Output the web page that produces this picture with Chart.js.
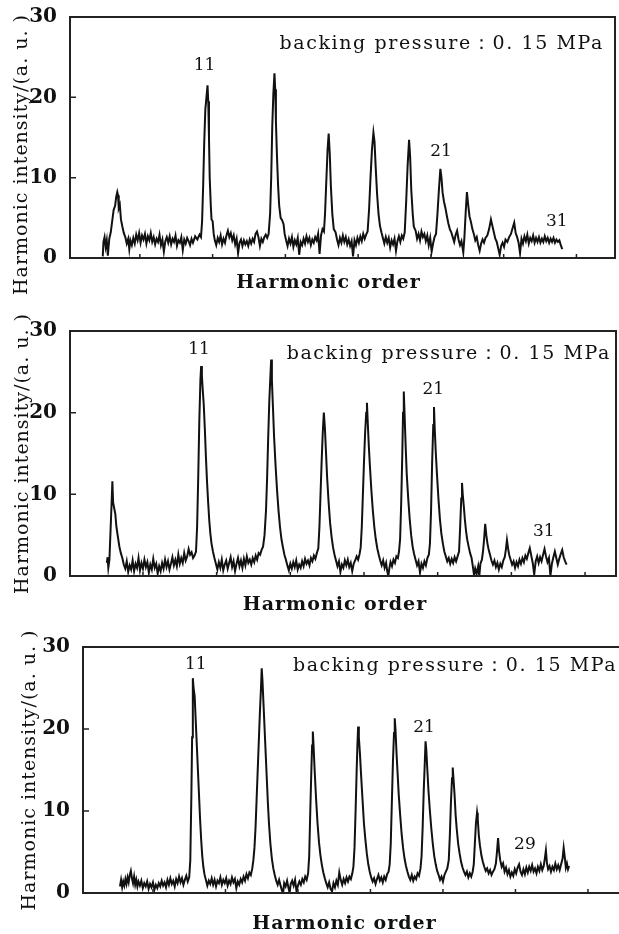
<!DOCTYPE html>
<html>
<head>
<meta charset="utf-8">
<script src="https://cdn.jsdelivr.net/npm/chart.js@4.4.1/dist/chart.umd.min.js"></script>
<style>
  html, body { margin: 0; padding: 0; background: #fff; width: 619px; height: 934px; overflow: hidden; }
  canvas { position: absolute; left: 0; }
</style>
</head>
<body>
<canvas id="panel1" width="619" height="305" style="top:0px"></canvas>
<canvas id="panel2" width="619" height="320" style="top:305px"></canvas>
<canvas id="panel3" width="640" height="309" style="top:625px"></canvas>
<script>
// spectra: [detector position (arb.), intensity (a. u.)]
const spectrum1 = [
  [4.9,0.2],[5.0,2.0],[5.15,2.6],[5.3,1.4],[5.45,2.2],[5.6,0.3],[5.8,2.4],[6.0,3.2],[6.2,4.6],[6.4,6.0],
  [6.6,6.5],[6.75,7.6],[6.9,8.2],[7.0,7.8],[7.1,6.2],[7.25,6.6],[7.4,4.8],[7.6,3.9],[7.8,3.1],[8.0,2.6],
  [8.2,1.8],[8.4,2.4],[8.55,1.1],[8.7,2.2],[8.9,1.6],[9.1,2.5],[9.3,1.8],[9.5,2.9],[9.7,2.2],[9.9,3.1],
  [10.1,1.9],[10.3,2.8],[10.5,2.3],[10.7,3.0],[10.9,1.8],[11.1,2.7],[11.3,2.2],[11.5,3.1],[11.7,2.0],[11.9,2.6],
  [12.1,1.7],[12.3,2.4],[12.5,2.0],[12.7,2.9],[12.9,1.6],[13.1,2.3],[13.3,0.8],[13.5,2.1],[13.7,2.6],[13.9,1.9],
  [14.1,2.7],[14.3,1.7],[14.5,2.4],[14.7,2.0],[14.9,2.8],[15.1,1.5],[15.3,2.2],[15.5,1.9],[15.7,2.6],[15.9,1.0],
  [16.1,2.3],[16.3,1.8],[16.5,2.5],[16.7,2.1],[16.9,1.6],[17.1,2.4],[17.3,1.9],[17.6,2.7],[17.9,2.3],[18.2,2.9],
  [18.4,2.6],[18.55,4.5],[18.7,9.0],[18.85,14.5],[19.0,18.5],[19.15,20.0],[19.3,21.5],[19.4,19.5],[19.5,15.0],[19.6,10.0],
  [19.75,6.5],[19.85,4.8],[20.0,4.6],[20.15,3.0],[20.3,2.2],[20.5,1.6],[20.7,2.5],[20.9,2.0],[21.1,2.8],[21.3,1.7],
  [21.5,2.4],[21.7,1.9],[21.9,2.8],[22.1,3.4],[22.3,2.6],[22.5,3.1],[22.7,2.2],[22.9,2.8],[23.1,1.7],[23.3,2.4],
  [23.5,0.6],[23.7,1.9],[23.9,2.3],[24.1,1.5],[24.3,2.2],[24.5,1.7],[24.7,2.1],[24.9,1.5],[25.1,2.3],[25.3,1.8],
  [25.5,2.4],[25.7,2.0],[25.9,3.0],[26.1,3.3],[26.3,2.6],[26.5,1.5],[26.7,2.4],[26.9,2.0],[27.1,2.6],[27.3,2.9],
  [27.5,2.5],[27.7,3.0],[27.9,5.5],[28.05,10.0],[28.2,16.5],[28.35,20.5],[28.5,23.0],[28.6,21.0],[28.7,17.0],[28.85,12.5],
  [29.0,9.0],[29.15,6.5],[29.35,5.0],[29.55,4.7],[29.75,4.2],[29.9,3.0],[30.1,2.2],[30.3,1.5],[30.5,2.4],[30.7,1.8],
  [30.9,2.6],[31.1,1.4],[31.3,2.2],[31.5,1.7],[31.7,2.5],[31.9,0.4],[32.1,2.0],[32.3,1.6],[32.5,2.4],[32.7,1.8],
  [32.9,2.7],[33.1,2.0],[33.3,2.5],[33.5,1.6],[33.7,2.3],[33.9,1.9],[34.1,2.6],[34.3,2.2],[34.5,3.0],[34.7,0.5],
  [34.9,2.8],[35.1,3.6],[35.3,3.3],[35.45,5.5],[35.6,9.0],[35.8,13.5],[35.95,15.5],[36.1,13.0],[36.25,9.0],[36.45,5.5],
  [36.65,3.6],[36.9,3.2],[37.1,2.3],[37.3,1.6],[37.5,2.5],[37.7,1.9],[37.9,2.8],[38.1,2.0],[38.3,2.6],[38.5,1.7],
  [38.7,2.3],[38.9,1.5],[39.1,2.1],[39.3,0.2],[39.5,2.2],[39.7,1.6],[39.9,2.5],[40.1,1.9],[40.3,2.7],[40.5,2.1],
  [40.7,3.0],[40.9,2.4],[41.1,2.9],[41.3,3.3],[41.5,6.0],[41.7,10.0],[41.9,13.5],[42.1,15.6],[42.25,14.5],[42.4,11.5],
  [42.6,8.0],[42.8,5.5],[43.0,4.0],[43.2,3.2],[43.4,2.5],[43.6,1.8],[43.8,2.6],[44.0,1.9],[44.2,2.5],[44.4,1.3],
  [44.6,2.2],[44.8,1.7],[45.0,2.4],[45.2,0.9],[45.4,2.1],[45.6,2.7],[45.8,2.0],[46.0,2.8],[46.2,2.4],[46.4,3.2],
  [46.6,7.0],[46.8,11.5],[47.0,14.7],[47.15,12.5],[47.3,8.5],[47.5,5.5],[47.65,3.9],[47.9,3.4],[48.1,2.4],[48.3,3.0],
  [48.5,2.2],[48.7,3.3],[48.9,2.6],[49.1,3.0],[49.3,2.1],[49.5,2.8],[49.7,1.6],[49.9,2.5],[50.1,0.8],[50.3,1.8],
  [50.5,2.6],[50.7,3.0],[50.9,5.5],[51.1,8.5],[51.3,11.1],[51.45,10.0],[51.6,8.2],[51.8,7.0],[52.0,6.2],[52.2,5.2],
  [52.4,4.3],[52.6,3.6],[52.8,3.2],[53.0,2.6],[53.2,2.0],[53.4,2.9],[53.6,3.4],[53.8,2.3],[54.0,1.6],[54.2,2.1],
  [54.45,0.7],[54.6,2.5],[54.8,6.0],[54.95,8.2],[55.1,6.8],[55.3,5.2],[55.5,4.5],[55.7,3.6],[55.9,3.0],[56.1,2.2],
  [56.3,2.6],[56.5,1.6],[56.7,0.9],[56.9,1.8],[57.1,2.3],[57.3,1.9],[57.5,2.5],[57.75,2.8],[58.0,3.6],[58.25,4.8],
  [58.45,4.0],[58.65,3.2],[58.85,2.4],[59.05,2.0],[59.25,1.2],[59.45,0.4],[59.65,1.5],[59.85,1.9],[60.05,1.4],[60.25,2.3],
  [60.5,2.0],[60.75,2.6],[61.0,3.0],[61.25,3.8],[61.45,4.4],[61.65,3.1],[61.85,2.6],[62.05,1.9],[62.25,0.6],[62.45,2.4],
  [62.65,1.8],[62.85,2.7],[63.05,2.1],[63.25,2.9],[63.45,1.8],[63.65,2.5],[63.85,2.1],[64.05,2.8],[64.25,1.9],[64.45,2.5],
  [64.65,2.0],[64.85,2.6],[65.05,1.9],[65.25,2.4],[65.45,2.0],[65.65,2.7],[65.85,2.1],[66.05,2.5],[66.25,1.9],[66.45,2.4],
  [66.65,2.0],[66.85,2.5],[67.05,1.9],[67.25,2.3],[67.45,2.0],[67.65,2.2],[67.85,1.6],[68.05,1.1]
];

const spectrum2 = [
  [5.1,1.6],[5.2,2.3],[5.3,1.0],[5.45,2.0],[5.6,5.5],[5.75,9.0],[5.85,11.6],[5.95,9.0],[6.1,8.3],[6.25,7.6],
  [6.4,6.0],[6.6,4.8],[6.8,3.6],[7.0,2.8],[7.2,2.2],[7.4,1.4],[7.6,0.9],[7.8,1.8],[8.0,0.5],[8.2,1.3],
  [8.4,0.8],[8.6,1.9],[8.8,0.6],[9.0,1.5],[9.2,1.0],[9.4,2.2],[9.6,0.7],[9.8,1.6],[10.0,0.9],[10.2,2.0],
  [10.4,1.1],[10.6,1.7],[10.8,0.4],[11.0,1.4],[11.2,0.8],[11.4,2.1],[11.6,1.0],[11.8,1.5],[12.0,0.3],[12.2,1.2],
  [12.4,0.6],[12.6,1.6],[12.8,0.9],[13.0,2.0],[13.2,1.1],[13.4,1.8],[13.6,0.8],[13.8,1.5],[14.0,2.3],[14.2,1.3],
  [14.4,2.0],[14.6,1.2],[14.8,2.6],[15.0,1.5],[15.2,2.2],[15.4,1.6],[15.6,2.8],[15.8,1.9],[16.0,2.4],[16.2,3.3],
  [16.4,2.6],[16.6,2.9],[16.8,2.2],[17.0,2.5],[17.2,3.0],[17.35,6.0],[17.5,12.0],[17.65,19.0],[17.8,24.0],[17.9,25.7],
  [18.0,24.5],[18.1,23.0],[18.25,21.0],[18.4,18.0],[18.55,14.5],[18.7,11.5],[18.85,9.0],[19.0,6.8],[19.15,5.2],[19.3,4.0],
  [19.5,3.0],[19.7,2.2],[19.9,1.5],[20.1,0.8],[20.3,1.7],[20.5,1.0],[20.7,2.0],[20.9,0.7],[21.1,1.4],[21.3,1.9],
  [21.5,0.9],[21.7,1.6],[21.9,2.3],[22.1,1.1],[22.3,1.8],[22.5,0.6],[22.7,1.5],[22.9,2.2],[23.1,1.2],[23.3,1.9],
  [23.5,1.0],[23.7,2.1],[23.9,1.3],[24.1,2.4],[24.3,1.6],[24.5,2.0],[24.7,1.4],[24.9,2.2],[25.1,1.7],[25.3,2.5],
  [25.5,2.0],[25.7,2.8],[25.9,2.6],[26.1,3.2],[26.3,3.6],[26.5,5.0],[26.7,8.0],[26.85,12.0],[27.0,17.0],[27.15,21.5],
  [27.3,24.5],[27.4,26.5],[27.5,24.0],[27.65,20.5],[27.8,17.0],[28.0,13.5],[28.2,10.5],[28.4,8.0],[28.6,6.0],[28.8,4.5],
  [29.0,3.5],[29.2,2.6],[29.4,2.0],[29.6,1.3],[29.8,0.7],[30.0,1.5],[30.2,0.9],[30.4,1.7],[30.6,1.1],[30.8,1.9],
  [31.0,0.8],[31.2,1.4],[31.4,1.0],[31.6,1.8],[31.8,1.2],[32.0,2.1],[32.2,1.5],[32.4,1.9],[32.6,1.3],[32.8,2.2],
  [33.0,1.8],[33.2,2.5],[33.4,2.1],[33.6,2.8],[33.8,3.4],[33.95,6.0],[34.1,10.0],[34.25,14.0],[34.4,17.5],[34.55,20.0],
  [34.7,18.0],[34.85,15.0],[35.0,12.0],[35.2,9.0],[35.4,6.5],[35.6,4.8],[35.8,3.5],[36.0,2.6],[36.2,1.9],[36.4,1.2],
  [36.6,1.8],[36.8,0.5],[37.0,1.4],[37.2,1.0],[37.4,1.9],[37.6,1.3],[37.8,2.0],[38.0,1.1],[38.2,1.6],[38.4,0.6],
  [38.6,1.5],[38.8,1.9],[39.0,2.4],[39.2,2.0],[39.4,2.7],[39.55,3.5],[39.7,6.0],[39.85,10.0],[40.0,14.0],[40.15,17.5],
  [40.3,20.0],[40.4,21.2],[40.5,19.0],[40.65,16.0],[40.8,13.5],[41.0,10.5],[41.2,8.0],[41.4,6.0],[41.6,4.5],[41.8,3.4],
  [42.0,2.6],[42.2,1.9],[42.4,1.3],[42.6,1.9],[42.8,1.0],[43.0,1.6],[43.15,0.6],[43.3,0.0],[43.45,1.0],[43.6,1.7],
  [43.8,1.2],[44.0,2.0],[44.2,1.6],[44.4,2.4],[44.6,2.2],[44.75,3.0],[44.9,4.5],[45.05,9.0],[45.2,15.0],[45.3,20.0],
  [45.4,22.6],[45.5,20.0],[45.65,16.0],[45.8,12.5],[46.0,9.5],[46.2,7.0],[46.4,5.0],[46.6,3.6],[46.8,2.7],[47.0,2.0],
  [47.2,1.3],[47.4,1.8],[47.6,0.4],[47.8,1.5],[48.0,1.0],[48.2,1.8],[48.4,1.3],[48.6,2.2],[48.8,2.6],[48.95,4.0],
  [49.1,8.0],[49.25,14.0],[49.4,18.5],[49.5,20.7],[49.6,18.0],[49.75,15.0],[49.9,12.5],[50.1,9.5],[50.3,7.0],[50.5,5.2],
  [50.7,4.0],[50.9,3.0],[51.1,2.4],[51.3,1.8],[51.5,2.2],[51.7,1.5],[51.9,2.1],[52.1,1.6],[52.3,2.3],[52.5,1.8],
  [52.7,2.4],[52.9,3.0],[53.05,6.0],[53.2,9.5],[53.3,11.4],[53.4,10.0],[53.55,8.5],[53.7,6.8],[53.85,5.5],[54.0,4.5],
  [54.2,3.6],[54.4,2.8],[54.6,2.2],[54.8,1.0],[54.95,0.0],[55.1,0.9],[55.3,0.3],[55.5,1.2],[55.65,0.0],[55.8,1.5],
  [56.0,2.0],[56.15,3.0],[56.3,4.5],[56.45,6.4],[56.6,5.0],[56.75,4.0],[56.9,3.3],[57.1,2.6],[57.3,1.9],[57.5,1.4],
  [57.7,1.9],[57.9,1.1],[58.1,1.6],[58.3,0.8],[58.5,1.5],[58.7,1.1],[58.9,1.9],[59.1,2.3],[59.25,3.2],[59.4,4.4],
  [59.55,3.4],[59.7,2.6],[59.9,2.0],[60.1,1.4],[60.3,1.8],[60.5,1.0],[60.7,1.7],[60.9,1.2],[61.1,2.0],[61.3,1.5],
  [61.5,2.2],[61.7,1.7],[61.9,2.5],[62.1,2.1],[62.3,2.8],[62.5,3.4],[62.7,2.5],[62.9,1.6],[63.1,0.2],[63.3,1.8],
  [63.5,2.4],[63.7,1.6],[63.9,2.3],[64.1,1.8],[64.3,2.6],[64.5,3.3],[64.7,2.4],[64.9,1.7],[65.1,2.2],[65.3,0.0],
  [65.5,1.5],[65.7,2.3],[65.9,3.0],[66.1,2.2],[66.3,1.4],[66.5,2.1],[66.7,2.7],[66.9,3.2],[67.1,2.3],[67.3,1.8],
  [67.5,1.4]
];

const spectrum3 = [
  [5.45,0.8],[5.6,1.6],[5.75,0.7],[5.9,1.4],[6.05,0.9],[6.2,1.7],[6.35,1.1],[6.5,1.9],[6.65,1.3],[6.8,2.2],
  [6.95,2.7],[7.1,1.8],[7.25,1.2],[7.4,2.0],[7.55,1.0],[7.7,1.6],[7.85,0.8],[8.0,1.4],[8.2,0.9],[8.4,1.5],
  [8.6,0.6],[8.8,1.2],[9.0,0.8],[9.2,1.4],[9.4,0.5],[9.6,1.1],[9.8,0.7],[10.0,1.3],[10.2,0.4],[10.4,1.0],
  [10.6,0.6],[10.8,1.2],[11.0,0.8],[11.2,1.5],[11.4,0.9],[11.6,1.3],[11.8,0.7],[12.0,1.6],[12.2,1.0],[12.4,1.8],
  [12.6,1.1],[12.8,1.5],[13.0,0.8],[13.2,1.7],[13.4,1.2],[13.6,2.0],[13.8,1.3],[14.0,1.8],[14.2,1.0],[14.4,1.6],
  [14.6,2.1],[14.8,1.4],[15.0,1.9],[15.15,4.0],[15.3,12.0],[15.4,19.0],[15.5,26.2],[15.6,25.0],[15.75,24.0],[15.9,21.0],
  [16.05,18.0],[16.2,15.0],[16.35,12.0],[16.5,9.0],[16.65,6.5],[16.8,4.5],[16.95,3.2],[17.1,2.3],[17.3,1.6],[17.5,0.9],
  [17.7,1.5],[17.9,1.1],[18.1,1.8],[18.3,1.0],[18.5,1.6],[18.7,0.8],[18.9,1.5],[19.1,1.2],[19.3,1.9],[19.5,1.0],
  [19.7,1.6],[19.9,1.2],[20.1,1.8],[20.3,0.9],[20.5,1.5],[20.7,1.1],[20.9,1.9],[21.1,1.3],[21.3,1.7],[21.5,0.6],
  [21.7,1.4],[21.9,1.0],[22.1,1.7],[22.3,1.3],[22.5,2.0],[22.7,1.5],[22.9,2.3],[23.1,1.8],[23.3,2.5],[23.5,2.2],
  [23.7,3.0],[23.85,4.0],[24.0,5.5],[24.15,8.0],[24.3,11.5],[24.45,15.0],[24.6,18.5],[24.75,22.0],[24.9,25.0],[25.0,27.4],
  [25.1,26.0],[25.25,23.0],[25.4,20.0],[25.55,17.0],[25.7,14.0],[25.85,11.0],[26.0,8.5],[26.2,6.0],[26.4,4.2],[26.6,3.0],
  [26.8,2.2],[27.0,1.5],[27.2,1.0],[27.4,1.6],[27.6,0.9],[27.8,0.3],[27.95,0.0],[28.1,1.2],[28.3,0.8],[28.5,1.5],
  [28.7,0.6],[28.85,0.0],[29.0,1.1],[29.2,1.5],[29.4,0.9],[29.6,1.6],[29.8,0.2],[30.0,0.9],[30.2,1.4],[30.4,1.0],
  [30.6,1.7],[30.8,1.3],[31.0,2.0],[31.2,1.6],[31.4,2.4],[31.55,4.5],[31.7,10.0],[31.85,15.0],[31.95,18.0],[32.05,19.7],
  [32.15,18.0],[32.3,15.0],[32.5,11.5],[32.7,8.5],[32.9,6.2],[33.1,4.6],[33.3,3.4],[33.5,2.5],[33.7,1.8],[33.9,1.2],
  [34.1,0.7],[34.3,1.3],[34.5,0.5],[34.7,0.2],[34.9,1.2],[35.1,0.7],[35.3,1.5],[35.5,1.0],[35.7,2.5],[35.9,1.6],
  [36.1,1.0],[36.3,1.7],[36.5,1.2],[36.7,1.9],[36.9,1.4],[37.1,2.0],[37.3,1.7],[37.5,2.4],[37.65,3.2],[37.8,5.5],
  [37.95,10.0],[38.1,15.0],[38.2,18.0],[38.3,20.3],[38.4,19.0],[38.55,17.0],[38.7,14.5],[38.9,11.5],[39.1,8.5],[39.3,6.5],
  [39.5,4.8],[39.7,3.5],[39.9,2.6],[40.1,1.9],[40.3,1.4],[40.5,1.8],[40.7,1.1],[40.9,1.7],[41.1,2.2],[41.3,1.5],
  [41.5,1.9],[41.7,1.3],[41.9,2.0],[42.1,1.6],[42.3,2.3],[42.5,2.6],[42.65,3.5],[42.8,6.0],[42.95,11.0],[43.1,16.0],
  [43.25,19.5],[43.35,21.3],[43.45,20.0],[43.6,17.0],[43.75,14.5],[43.9,12.0],[44.1,9.5],[44.3,7.2],[44.5,5.5],[44.7,4.2],
  [44.9,3.3],[45.1,2.6],[45.3,2.0],[45.5,1.6],[45.7,2.2],[45.9,1.5],[46.1,2.0],[46.3,1.7],[46.5,2.4],[46.7,2.1],
  [46.9,3.0],[47.05,4.5],[47.2,8.0],[47.35,12.5],[47.5,16.0],[47.6,18.5],[47.7,17.5],[47.85,15.0],[48.0,12.5],[48.2,10.0],
  [48.4,7.8],[48.6,6.0],[48.8,4.5],[49.0,3.5],[49.2,2.7],[49.4,2.2],[49.6,1.6],[49.8,2.0],[50.0,1.4],[50.2,2.2],
  [50.4,2.6],[50.6,3.0],[50.8,4.0],[50.95,7.0],[51.1,11.0],[51.25,14.0],[51.35,15.3],[51.45,14.0],[51.6,12.0],[51.75,9.5],
  [51.9,7.8],[52.1,6.0],[52.3,4.8],[52.5,3.8],[52.7,3.1],[52.9,2.6],[53.1,2.2],[53.3,2.6],[53.5,1.9],[53.7,2.4],
  [53.9,2.0],[54.1,2.6],[54.25,3.5],[54.4,6.0],[54.55,8.5],[54.7,9.8],[54.8,9.0],[54.95,7.0],[55.1,5.8],[55.3,4.6],
  [55.5,3.8],[55.7,3.2],[55.9,2.7],[56.1,3.0],[56.3,2.4],[56.5,2.8],[56.7,2.2],[56.9,2.6],[57.1,2.9],[57.3,3.6],
  [57.45,5.0],[57.6,6.7],[57.75,5.0],[57.9,4.0],[58.1,3.2],[58.3,3.6],[58.5,2.6],[58.7,3.1],[58.9,2.3],[59.1,2.8],
  [59.3,2.0],[59.5,2.5],[59.7,2.1],[59.9,2.9],[60.1,2.4],[60.3,3.1],[60.5,3.5],[60.7,2.6],[60.9,2.2],[61.1,2.9],
  [61.3,2.3],[61.5,3.1],[61.7,2.5],[61.9,3.2],[62.1,2.7],[62.3,3.4],[62.5,2.6],[62.7,3.0],[62.9,2.4],[63.1,3.2],
  [63.3,2.7],[63.5,3.5],[63.7,2.8],[63.9,3.3],[64.05,4.2],[64.2,5.2],[64.35,3.6],[64.5,2.9],[64.7,3.3],[64.9,2.6],
  [65.1,3.2],[65.3,2.8],[65.5,3.6],[65.7,2.9],[65.9,3.4],[66.1,2.8],[66.3,3.5],[66.5,4.2],[66.65,5.5],[66.8,4.4],
  [66.95,3.1],[67.1,3.6],[67.25,2.9],[67.4,3.3]
];

// harmonic order labels: [text, position, intensity]
const orders1 = [["11", 18.9, 23.9], ["21", 51.4, 13.3], ["31", 67.3, 4.5]];
const orders2 = [["11", 17.6, 27.7], ["21", 49.4, 22.8], ["31", 64.4, 5.4]];
const orders3 = [["11", 15.9, 27.8], ["21", 47.4, 20.2], ["29", 61.3, 5.9]];

// where the pressure note starts: [position, intensity]
const noteAt1 = [29.2, 26.6];
const noteAt2 = [29.5, 27.2];
const noteAt3 = [29.3, 27.7];

const yTicks = [0, 10, 20, 30];
const pressureNote = "backing pressure\uFF1A0. 15 MPa";
const yTitle = "Harmonic intensity/(a. u. )";
const xTitle = "Harmonic order";

const serif = '"DejaVu Serif", "Liberation Serif", serif';

// frame, inward ticks and all the loose text of each panel
const paperPlugin = {
  id: "paper",
  afterDatasetsDraw(chart, args, opts) {
    const { ctx, chartArea: a, scales } = chart;
    const x = scales.x, y = scales.y;
    ctx.save();
    ctx.strokeStyle = "#222";
    ctx.lineWidth = 2;
    ctx.strokeRect(a.left, a.top, a.right - a.left, a.bottom - a.top);

    ctx.lineWidth = 1.5;
    ctx.beginPath();
    y.ticks.forEach((t) => {
      const py = y.getPixelForValue(t.value);
      ctx.moveTo(a.left, py);
      ctx.lineTo(a.left + 6, py);
    });
    x.ticks.forEach((t) => {
      const px = x.getPixelForValue(t.value);
      ctx.moveTo(px, a.bottom);
      ctx.lineTo(px, a.bottom - 4);
    });
    ctx.stroke();

    ctx.fillStyle = "#111";
    ctx.textBaseline = "middle";

    // y title
    ctx.save();
    ctx.translate(opts.yTitleX, (a.top + a.bottom) / 2 + opts.yTitleShift);
    ctx.rotate(-Math.PI / 2);
    ctx.textAlign = "center";
    ctx.font = "19px " + serif;
    ctx.letterSpacing = "1px";
    ctx.fillText(yTitle, 0, 0);
    ctx.restore();

    // x title
    ctx.textAlign = "center";
    ctx.font = "bold 19px " + serif;
    ctx.letterSpacing = "1px";
    ctx.fillText(xTitle, (a.left + a.right) / 2 + opts.xTitleDx, a.bottom + opts.xTitleDy);

    // pressure note
    ctx.textAlign = "left";
    ctx.font = "19px " + serif;
    ctx.letterSpacing = "1.6px";
    ctx.fillText(pressureNote, x.getPixelForValue(opts.note[0]), y.getPixelForValue(opts.note[1]));

    // order labels
    ctx.textAlign = "center";
    ctx.font = "17px " + serif;
    ctx.letterSpacing = "0px";
    opts.orders.forEach(([text, u, v]) => {
      ctx.fillText(text, x.getPixelForValue(u), y.getPixelForValue(v));
    });
    ctx.restore();
  },
};

function makePanel(canvasId, spectrum, orders, note, look) {
  return new Chart(document.getElementById(canvasId), {
    type: "line",
    data: {
      datasets: [{
        data: spectrum.map(([u, v]) => ({ x: u, y: v })),
        borderColor: "#111",
        borderWidth: 2,
        pointRadius: 0,
        tension: 0,
        fill: false,
      }],
    },
    options: {
      responsive: false,
      devicePixelRatio: 1,
      animation: false,
      events: [],
      layout: { padding: look.padding },
      scales: {
        x: {
          type: "linear",
          min: look.xMin,
          max: look.xMax,
          grid: { display: false },
          border: { display: false },
          ticks: { display: false, stepSize: 10, includeBounds: false },
          afterFit: (scale) => { scale.height = look.xHeight; },
        },
        y: {
          min: 0,
          max: 30,
          grid: { display: false },
          border: { display: false },
          afterBuildTicks: (scale) => { scale.ticks = yTicks.map((v) => ({ value: v })); },
          ticks: {
            color: "#111",
            padding: 5,
            font: { family: serif, weight: "bold", size: 20 },
          },
          afterFit: (scale) => { scale.width = look.yWidth; },
        },
      },
      plugins: {
        legend: { display: false },
        tooltip: { enabled: false },
        paper: {
          orders: orders,
          note: note,
          yTitleX: look.yTitleX,
          yTitleShift: look.yTitleShift,
          xTitleDx: look.xTitleDx,
          xTitleDy: look.xTitleDy,
        },
      },
    },
    plugins: [paperPlugin],
  });
}

makePanel("panel1", spectrum1, orders1, noteAt1, {
  padding: { top: 13, right: 4, left: 0, bottom: 0 },
  xMin: 0.4, xMax: 75.3, xHeight: 47, yWidth: 70,
  yTitleX: 22, yTitleShift: 17, xTitleDx: -14, xTitleDy: 25,
});
makePanel("panel2", spectrum2, orders2, noteAt2, {
  padding: { top: 26, right: 3, left: 0, bottom: 0 },
  xMin: 0.1, xMax: 74.2, xHeight: 49, yWidth: 70,
  yTitleX: 23, yTitleShift: 0, xTitleDx: -8, xTitleDy: 29,
});
makePanel("panel3", spectrum3, orders3, noteAt3, {
  padding: { top: 22, right: 10, left: 0, bottom: 0 },
  xMin: 0.35, xMax: 75.8, xHeight: 41, yWidth: 83,
  yTitleX: 30, yTitleShift: 0, xTitleDx: -12, xTitleDy: 31,
});
</script>
</body>
</html>
